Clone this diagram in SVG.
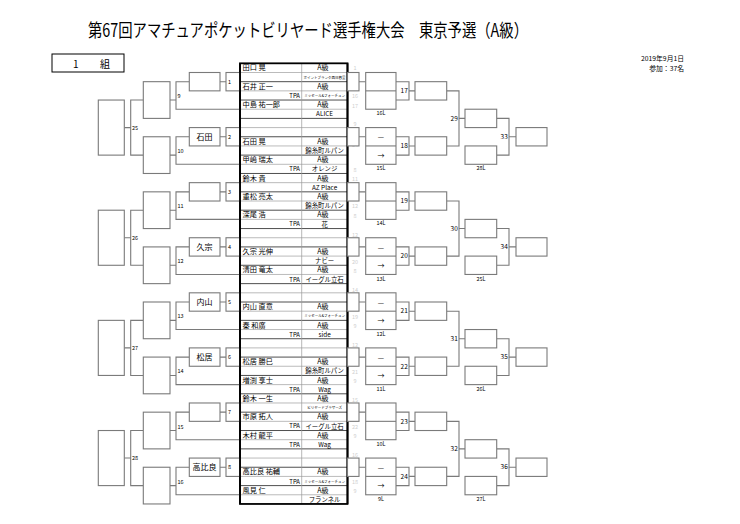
<svg xmlns="http://www.w3.org/2000/svg" width="740" height="524" viewBox="0 0 740 524">
<style>
text{font-family:"Noto Sans CJK JP","Noto Sans CJK SC",sans-serif;fill:#000}
.bx{fill:#fff;stroke:#7a7a7a;stroke-width:1.1}
.cn{fill:none;stroke:#7a7a7a;stroke-width:1.1}
.n{font-size:5.5px}
.ne{font-size:6.5px;text-anchor:end}
.lb{font-size:5.5px;text-anchor:middle}
.mk{font-size:7px;text-anchor:middle}
.nm{font-size:7.2px}
.ak{font-size:7px;text-anchor:middle}
.cl{font-size:6.4px;text-anchor:middle}
.tp{font-size:6px;text-anchor:end}
.tiny{font-size:3.5px;text-anchor:middle}
.gh{font-size:5.5px;fill:#cfcfcf;text-anchor:middle}
.bn{font-size:8px;text-anchor:middle}
</style>
<rect width="740" height="524" fill="#fff"/>
<g id="title"><text x="88" y="36.5" font-size="18" textLength="440" lengthAdjust="spacingAndGlyphs">第67回アマチュアポケットビリヤード選手権大会　東京予選（A級）</text></g>
<g id="group-label"><rect x="52" y="54" width="72" height="18" fill="#fff" stroke="#000" stroke-width="1"/><text x="73" y="67.5" font-size="10">1 <tspan x="100">組</tspan></text></g>
<g id="date"><text x="684" y="61.3" font-size="6.8" text-anchor="end">2019年9月1日</text><text x="684" y="70.8" font-size="6.8" text-anchor="end">参加：37名</text></g>

<g id="player-list">
<rect x="240" y="63.32" width="107.5" height="440.64" fill="#fff"/>
<path d="M240 81.68H347.5M240 100.04H347.5M240 118.4H347.5M240 136.76H347.5M240 155.12H347.5M240 173.48H347.5M240 191.84H347.5M240 210.2H347.5M240 228.56H347.5M240 246.92H347.5M240 265.28H347.5M240 283.64H347.5M240 302H347.5M240 320.36H347.5M240 338.72H347.5M240 357.08H347.5M240 375.44H347.5M240 393.8H347.5M240 412.16H347.5M240 430.52H347.5M240 448.88H347.5M240 467.24H347.5M240 485.6H347.5" stroke="#222" stroke-width="0.8" fill="none"/>
<path d="M240 72.5H347.5M240 90.86H347.5M240 109.22H347.5M240 127.58H347.5M240 145.94H347.5M240 164.3H347.5M240 182.66H347.5M240 201.02H347.5M240 219.38H347.5M240 237.74H347.5M240 256.1H347.5M240 274.46H347.5M240 292.82H347.5M240 311.18H347.5M240 329.54H347.5M240 347.9H347.5M240 366.26H347.5M240 384.62H347.5M240 402.98H347.5M240 421.34H347.5M240 439.7H347.5M240 458.06H347.5M240 476.42H347.5M240 494.78H347.5" stroke="#777" stroke-width="0.5" fill="none"/>
<path d="M301.7 63.32V503.96" stroke="#999" stroke-width="0.7"/>
<rect x="240" y="63.32" width="107.5" height="440.64" fill="none" stroke="#000" stroke-width="1.8"/>

<text class="nm" x="242.5" y="70.4">田口 晃</text><text class="ak" x="323" y="70.4">A級</text><text class="tiny" x="324.6" y="78.6">ポイントブランク西日暮里</text>
<text class="nm" x="242.5" y="88.8">石井 正一</text><text class="ak" x="323" y="88.8">A級</text><text class="tp" x="300" y="97.6">TPA</text><text class="tiny" x="324.6" y="97">ミッセール&amp;フォーチュン</text>
<text class="nm" x="242.5" y="107.1">中島 祐一郎</text><text class="ak" x="323" y="107.1">A級</text><text class="cl" x="324.6" y="116.3">ALICE</text>
<text class="nm" x="242.5" y="143.9">石田 晃</text><text class="ak" x="323" y="143.9">A級</text><text class="cl" x="324.6" y="153.1">錦糸町ルパン</text>
<text class="nm" x="242.5" y="162.2">甲嶋 瑞太</text><text class="ak" x="323" y="162.2">A級</text><text class="tp" x="300" y="171.3">TPA</text><text class="cl" x="324.6" y="171.4">オレンジ</text>
<text class="nm" x="242.5" y="180.6">鈴木 貴</text><text class="ak" x="323" y="180.6">A級</text><text class="cl" x="324.6" y="189.8">AZ Place</text>
<text class="nm" x="242.5" y="198.9">重松 亮太</text><text class="ak" x="323" y="198.9">A級</text><text class="cl" x="324.6" y="208.1">錦糸町ルパン</text>
<text class="nm" x="242.5" y="217.3">深尾 浩</text><text class="ak" x="323" y="217.3">A級</text><text class="tp" x="300" y="226.4">TPA</text><text class="cl" x="324.6" y="226.5">花</text>
<text class="nm" x="242.5" y="254">久宗 光伸</text><text class="ak" x="323" y="254">A級</text><text class="cl" x="324.6" y="263.2">ナビー</text>
<text class="nm" x="242.5" y="272.4">清田 竜太</text><text class="ak" x="323" y="272.4">A級</text><text class="tp" x="300" y="281.5">TPA</text><text class="cl" x="324.6" y="281.6">イーグル立石</text>
<text class="nm" x="242.5" y="309.1">内山 直意</text><text class="ak" x="323" y="309.1">A級</text><text class="tiny" x="324.6" y="317.3">ミッセール&amp;フォーチュン</text>
<text class="nm" x="242.5" y="327.5">秦 和廣</text><text class="ak" x="323" y="327.5">A級</text><text class="tp" x="300" y="336.6">TPA</text><text class="cl" x="324.6" y="336.7">side</text>
<text class="nm" x="242.5" y="364.2">松居 勝巳</text><text class="ak" x="323" y="364.2">A級</text><text class="cl" x="324.6" y="373.4">錦糸町ルパン</text>
<text class="nm" x="242.5" y="382.6">増渕 享士</text><text class="ak" x="323" y="382.6">A級</text><text class="tp" x="300" y="391.7">TPA</text><text class="cl" x="324.6" y="391.8">Wag</text>
<text class="nm" x="242.5" y="400.9">鈴木 一生</text><text class="ak" x="323" y="400.9">A級</text><text class="tiny" x="324.6" y="409.1">ビリヤードブラザーズ</text>
<text class="nm" x="242.5" y="419.3">市原 拓人</text><text class="ak" x="323" y="419.3">A級</text><text class="tp" x="300" y="428.4">TPA</text><text class="cl" x="324.6" y="428.5">イーグル立石</text>
<text class="nm" x="242.5" y="437.7">木村 龍平</text><text class="ak" x="323" y="437.7">A級</text><text class="tp" x="300" y="446.8">TPA</text><text class="cl" x="324.6" y="446.9">Wag</text>
<text class="nm" x="242.5" y="474.4">高比良 祐輔</text><text class="ak" x="323" y="474.4">A級</text><text class="tp" x="300" y="483.5">TPA</text><text class="tiny" x="324.6" y="482.8">ミッセール&amp;フォーチュン</text>
<text class="nm" x="242.5" y="492.8">風見 仁</text><text class="ak" x="323" y="492.8">A級</text><text class="cl" x="324.6" y="502" font-size="7.2">フランネル</text>
</g>

<g id="connectors" class="cn">
<path d="M220 81.68H226M189.3 81.68H176V109.22H240M170 100.04H176M220 136.76H226M189.3 136.76H176V164.3H240M170 155.12H176M220 191.84H226M189.3 191.84H176V219.38H240M170 210.2H176M220 246.92H226M189.3 246.92H176V274.46H240M170 265.28H176M220 302H226M189.3 302H176V329.54H240M170 320.36H176M220 357.08H226M189.3 357.08H176V384.62H240M170 375.44H176M220 412.16H226M189.3 412.16H176V439.7H240M170 430.52H176M220 467.24H226M189.3 467.24H176V494.78H240M170 485.6H176"/>
<path d="M143.3 100.04H130.7V155.12H143.3M124.3 127.58H130.7M143.3 210.2H130.7V265.28H143.3M124.3 237.74H130.7M143.3 320.36H130.7V375.44H143.3M124.3 347.9H130.7M143.3 430.52H130.7V485.6H143.3M124.3 458.06H130.7"/>
<path d="M359 81.68H365.7M396 81.68H409V100.04H396M409 90.86H415M359 136.76H365.7M396 136.76H409V155.12H396M409 145.94H415M359 191.84H365.7M396 191.84H409V210.2H396M409 201.02H415M359 246.92H365.7M396 246.92H409V265.28H396M409 256.1H415M359 302H365.7M396 302H409V320.36H396M409 311.18H415M359 357.08H365.7M396 357.08H409V375.44H396M409 366.26H415M359 412.16H365.7M396 412.16H409V430.52H396M409 421.34H415M359 467.24H365.7M396 467.24H409V485.6H396M409 476.42H415"/>
<path d="M446.7 90.86H459V145.94H446.7M459 118.4H465M496.7 118.4H509V155.12H496.7M509 136.76H516M446.7 201.02H459V256.1H446.7M459 228.56H465M496.7 228.56H509V265.28H496.7M509 246.92H516M446.7 311.18H459V366.26H446.7M459 338.72H465M496.7 338.72H509V375.44H496.7M509 357.08H516M446.7 421.34H459V476.42H446.7M459 448.88H465M496.7 448.88H509V485.6H496.7M509 467.24H516"/>
</g>

<g id="m25"><rect class="bx" x="98.3" y="100.04" width="26" height="55.08"/><text class="n" x="132" y="129.6">25</text></g>
<g id="m26"><rect class="bx" x="98.3" y="210.2" width="26" height="55.08"/><text class="n" x="132" y="239.7">26</text></g>
<g id="m27"><rect class="bx" x="98.3" y="320.36" width="26" height="55.08"/><text class="n" x="132" y="349.9">27</text></g>
<g id="m28"><rect class="bx" x="98.3" y="430.52" width="26" height="55.08"/><text class="n" x="132" y="460.1">28</text></g>

<g id="m9"><rect class="bx" x="143.3" y="81.68" width="26.7" height="36.72"/><text class="n" x="177.5" y="98">9</text></g>
<g id="m10"><rect class="bx" x="143.3" y="136.76" width="26.7" height="36.72"/><text class="n" x="177.5" y="153.1">10</text></g>
<g id="m11"><rect class="bx" x="143.3" y="191.84" width="26.7" height="36.72"/><text class="n" x="177.5" y="208.2">11</text></g>
<g id="m12"><rect class="bx" x="143.3" y="246.92" width="26.7" height="36.72"/><text class="n" x="177.5" y="263.3">12</text></g>
<g id="m13"><rect class="bx" x="143.3" y="302" width="26.7" height="36.72"/><text class="n" x="177.5" y="318.4">13</text></g>
<g id="m14"><rect class="bx" x="143.3" y="357.08" width="26.7" height="36.72"/><text class="n" x="177.5" y="373.4">14</text></g>
<g id="m15"><rect class="bx" x="143.3" y="412.16" width="26.7" height="36.72"/><text class="n" x="177.5" y="428.5">15</text></g>
<g id="m16"><rect class="bx" x="143.3" y="467.24" width="26.7" height="36.72"/><text class="n" x="177.5" y="483.6">16</text></g>

<g id="w1"><rect class="bx" x="189.3" y="72.5" width="30.7" height="18.36"/></g>
<g id="w2"><rect class="bx" x="189.3" y="127.58" width="30.7" height="18.36"/><text class="bn" x="204.6" y="139.8">石田</text></g>
<g id="w3"><rect class="bx" x="189.3" y="182.66" width="30.7" height="18.36"/></g>
<g id="w4"><rect class="bx" x="189.3" y="237.74" width="30.7" height="18.36"/><text class="bn" x="204.6" y="249.9">久宗</text></g>
<g id="w5"><rect class="bx" x="189.3" y="292.82" width="30.7" height="18.36"/><text class="bn" x="204.6" y="305">内山</text></g>
<g id="w6"><rect class="bx" x="189.3" y="347.9" width="30.7" height="18.36"/><text class="bn" x="204.6" y="360.1">松居</text></g>
<g id="w7"><rect class="bx" x="189.3" y="402.98" width="30.7" height="18.36"/></g>
<g id="w8"><rect class="bx" x="189.3" y="458.06" width="30.7" height="18.36"/><text class="bn" x="204.6" y="470.2">高比良</text></g>

<g id="m1"><rect class="bx" x="226" y="72.5" width="14" height="18.36"/><text class="n" x="228" y="83.6">1</text></g>
<g id="m2"><rect class="bx" x="226" y="127.58" width="14" height="18.36"/><text class="n" x="228" y="138.7">2</text></g>
<g id="m3"><rect class="bx" x="226" y="182.66" width="14" height="18.36"/><text class="n" x="228" y="193.8">3</text></g>
<g id="m4"><rect class="bx" x="226" y="237.74" width="14" height="18.36"/><text class="n" x="228" y="248.9">4</text></g>
<g id="m5"><rect class="bx" x="226" y="292.82" width="14" height="18.36"/><text class="n" x="228" y="304">5</text></g>
<g id="m6"><rect class="bx" x="226" y="347.9" width="14" height="18.36"/><text class="n" x="228" y="359">6</text></g>
<g id="m7"><rect class="bx" x="226" y="402.98" width="14" height="18.36"/><text class="n" x="228" y="414.1">7</text></g>
<g id="m8"><rect class="bx" x="226" y="458.06" width="14" height="18.36"/><text class="n" x="228" y="469.2">8</text></g>

<g id="list-edge" stroke="#000" stroke-width="1.8"><path d="M240 63.32V503.96M347.5 63.32V503.96"/></g>

<g id="loser-numbers">
<text class="gh" x="355" y="70">1</text><text class="gh" x="355" y="98">16</text><text class="gh" x="355" y="108">17</text>
<text class="gh" x="355" y="126">9</text><text class="gh" x="355" y="147">24</text><text class="gh" x="355" y="172">8</text>
<text class="gh" x="355" y="181">11</text><text class="gh" x="355" y="208">12</text><text class="gh" x="355" y="218">8</text>
<text class="gh" x="355" y="237">12</text><text class="gh" x="355" y="264">20</text><text class="gh" x="355" y="273">8</text>
<text class="gh" x="355" y="292">14</text><text class="gh" x="355" y="319">19</text><text class="gh" x="355" y="328">9</text>
<text class="gh" x="355" y="347">12</text><text class="gh" x="355" y="374">21</text><text class="gh" x="355" y="383">9</text>
<text class="gh" x="355" y="402">15</text><text class="gh" x="355" y="429">22</text><text class="gh" x="355" y="438">9</text>
<text class="gh" x="355" y="457">16</text><text class="gh" x="355" y="484">18</text><text class="gh" x="355" y="493">9</text>
</g>

<g id="rs1"><rect class="bx" x="347.5" y="72.5" width="11.5" height="18.36"/></g>
<g id="rs2"><rect class="bx" x="347.5" y="127.58" width="11.5" height="18.36"/></g>
<g id="rs3"><rect class="bx" x="347.5" y="182.66" width="11.5" height="18.36"/></g>
<g id="rs4"><rect class="bx" x="347.5" y="237.74" width="11.5" height="18.36"/></g>
<g id="rs5"><rect class="bx" x="347.5" y="292.82" width="11.5" height="18.36"/></g>
<g id="rs6"><rect class="bx" x="347.5" y="347.9" width="11.5" height="18.36"/></g>
<g id="rs7"><rect class="bx" x="347.5" y="402.98" width="11.5" height="18.36"/></g>
<g id="rs8"><rect class="bx" x="347.5" y="458.06" width="11.5" height="18.36"/></g>

<g id="L16"><rect class="bx" x="365.7" y="72.5" width="30.3" height="36.72"/><path class="cn" d="M365.7 90.86H396"/><text class="lb" x="381" y="115.2">16L</text></g>
<g id="L15"><rect class="bx" x="365.7" y="127.58" width="30.3" height="36.72"/><path class="cn" d="M365.7 145.94H396"/><text class="mk" x="381" y="139.3">—</text><text class="mk" x="381" y="157.7">→</text><text class="lb" x="381" y="170.3">15L</text></g>
<g id="L14"><rect class="bx" x="365.7" y="182.66" width="30.3" height="36.72"/><path class="cn" d="M365.7 201.02H396"/><text class="lb" x="381" y="225.4">14L</text></g>
<g id="L13"><rect class="bx" x="365.7" y="237.74" width="30.3" height="36.72"/><path class="cn" d="M365.7 256.1H396"/><text class="mk" x="381" y="249.5">—</text><text class="mk" x="381" y="267.9">→</text><text class="lb" x="381" y="280.5">13L</text></g>
<g id="L12"><rect class="bx" x="365.7" y="292.82" width="30.3" height="36.72"/><path class="cn" d="M365.7 311.18H396"/><text class="mk" x="381" y="304.6">—</text><text class="mk" x="381" y="322.9">→</text><text class="lb" x="381" y="335.6">12L</text></g>
<g id="L11"><rect class="bx" x="365.7" y="347.9" width="30.3" height="36.72"/><path class="cn" d="M365.7 366.26H396"/><text class="mk" x="381" y="359.7">—</text><text class="mk" x="381" y="378">→</text><text class="lb" x="381" y="390.7">11L</text></g>
<g id="L10"><rect class="bx" x="365.7" y="402.98" width="30.3" height="36.72"/><path class="cn" d="M365.7 421.34H396"/><text class="lb" x="381" y="445.8">10L</text></g>
<g id="L9"><rect class="bx" x="365.7" y="458.06" width="30.3" height="36.72"/><path class="cn" d="M365.7 476.42H396"/><text class="mk" x="381" y="469.8">—</text><text class="mk" x="381" y="488.2">→</text><text class="lb" x="381" y="500.8">9L</text></g>

<g id="m17"><rect class="bx" x="415" y="81.68" width="31.7" height="18.36"/><text class="ne" x="407.8" y="93.1">17</text></g>
<g id="m18"><rect class="bx" x="415" y="136.76" width="31.7" height="18.36"/><text class="ne" x="407.8" y="148.2">18</text></g>
<g id="m19"><rect class="bx" x="415" y="191.84" width="31.7" height="18.36"/><text class="ne" x="407.8" y="203.3">19</text></g>
<g id="m20"><rect class="bx" x="415" y="246.92" width="31.7" height="18.36"/><text class="ne" x="407.8" y="258.4">20</text></g>
<g id="m21"><rect class="bx" x="415" y="302" width="31.7" height="18.36"/><text class="ne" x="407.8" y="313.4">21</text></g>
<g id="m22"><rect class="bx" x="415" y="357.08" width="31.7" height="18.36"/><text class="ne" x="407.8" y="368.5">22</text></g>
<g id="m23"><rect class="bx" x="415" y="412.16" width="31.7" height="18.36"/><text class="ne" x="407.8" y="423.6">23</text></g>
<g id="m24"><rect class="bx" x="415" y="467.24" width="31.7" height="18.36"/><text class="ne" x="407.8" y="478.7">24</text></g>

<g id="m29"><rect class="bx" x="465" y="109.22" width="31.7" height="18.36"/><text class="ne" x="457.8" y="120.6">29</text></g>
<g id="m30"><rect class="bx" x="465" y="219.38" width="31.7" height="18.36"/><text class="ne" x="457.8" y="230.8">30</text></g>
<g id="m31"><rect class="bx" x="465" y="329.54" width="31.7" height="18.36"/><text class="ne" x="457.8" y="341">31</text></g>
<g id="m32"><rect class="bx" x="465" y="439.7" width="31.7" height="18.36"/><text class="ne" x="457.8" y="451.1">32</text></g>

<g id="L28"><rect class="bx" x="465" y="145.94" width="31.7" height="18.36"/><text class="lb" x="481" y="170.3">28L</text></g>
<g id="L25"><rect class="bx" x="465" y="256.1" width="31.7" height="18.36"/><text class="lb" x="481" y="280.5">25L</text></g>
<g id="L26"><rect class="bx" x="465" y="366.26" width="31.7" height="18.36"/><text class="lb" x="481" y="390.7">26L</text></g>
<g id="L27"><rect class="bx" x="465" y="476.42" width="31.7" height="18.36"/><text class="lb" x="481" y="500.8">27L</text></g>

<g id="m33"><rect class="bx" x="516" y="127.58" width="31" height="18.36"/><text class="ne" x="507.8" y="139">33</text></g>
<g id="m34"><rect class="bx" x="516" y="237.74" width="31" height="18.36"/><text class="ne" x="507.8" y="249.1">34</text></g>
<g id="m35"><rect class="bx" x="516" y="347.9" width="31" height="18.36"/><text class="ne" x="507.8" y="359.3">35</text></g>
<g id="m36"><rect class="bx" x="516" y="458.06" width="31" height="18.36"/><text class="ne" x="507.8" y="469.4">36</text></g>
</svg>
